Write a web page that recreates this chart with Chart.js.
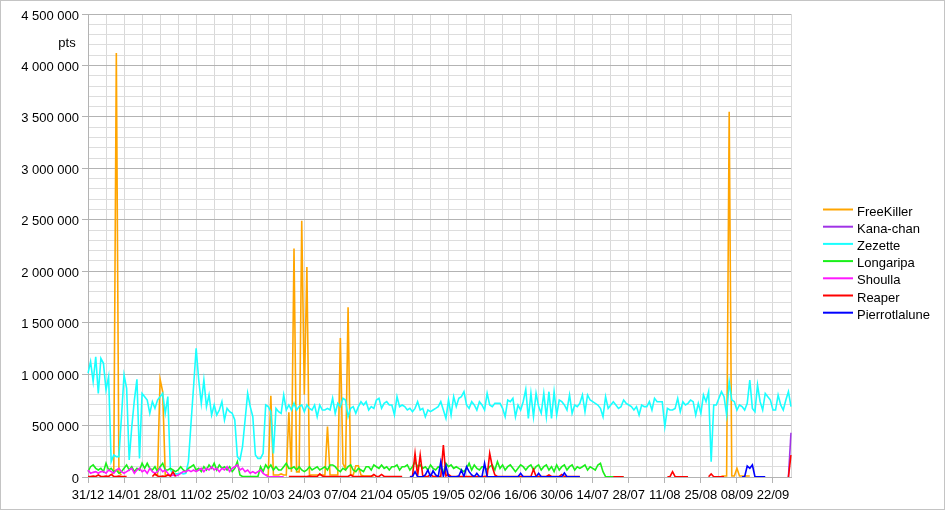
<!DOCTYPE html>
<html>
<head>
<meta charset="utf-8">
<script src="https://cdn.jsdelivr.net/npm/chart.js@4.4.1/dist/chart.umd.min.js"></script>
<style>
html,body{margin:0;padding:0;background:#fff;}
#wrap{width:945px;height:510px;position:relative;}
canvas{display:block;}
</style>
</head>
<body>
<div id="wrap"><canvas id="c" width="945" height="510"></canvas></div>
<script>
const _ = null;
const N = n => Array(n).fill(null);

// X tick labels (every 14 days)
const tickLabels = ['31/12','14/01','28/01','11/02','25/02','10/03','24/03','07/04','21/04','05/05',
  '19/05','02/06','16/06','30/06','14/07','28/07','11/08','25/08','08/09','22/09'];
const axisTitle = 'pts';
const seriesNames = ['FreeKiller','Kana-chan','Zezette','Longaripa','Shoulla','Reaper','Pierrotlalune'];
const seriesColors = ['#ffa500','#a033e6','#19ffff','#19f019','#ff19ff','#ff0000','#0000ff'];

// values in thousands of points, one per day from 31/12
const freeKiller = [
  ...N(9), 20, 40, 4120, 40, 20,
  ...N(12), 20, 20,
  950, 830, 20, 20, ...N(10),
  ...N(14),
  ...N(13), 20,
  20, 790, 20, 20, 20, 30, 20, 20, 630, 50, 2220, 50, 50, 2490,
  800, 2040, 20, 20, 20, 20, 20, 20, 20, 490, 20, 20, 20, 20,
  1350, 130, 80, 1650, 20, 20, 110, 110, 20, 10, 10, 10, 10, 10,
  ...N(126),
  ...N(8), 10, 10, 10, 3550, 10, 10,
  85, 10, 10, 10, 10, 10, ...N(8),
  ...N(8)
];
const kanaChan = [...N(272), 0, 430];
const zezette = [
  1008,1121,927,1169,813,1153,1105,846,975,149,214,198,198,586,
  991,862,165,489,748,949,181,813,781,748,619,732,667,748,
  781,813,619,781,68,36,30,30,40,30,36,150,520,880,
  1251,943,716,943,684,797,603,700,603,651,732,554,667,635,
  619,554,198,165,295,554,813,684,586,214,181,181,230,700,
  684,635,230,667,635,619,797,651,700,651,716,651,684,700,
  635,700,667,651,700,586,700,651,651,667,651,765,619,716,
  684,765,748,586,667,684,619,684,732,700,732,651,684,667,
  748,765,667,716,732,700,700,603,781,684,700,684,651,667,
  635,667,732,651,667,586,651,635,651,667,684,732,651,570,
  748,603,781,684,765,781,829,700,667,732,700,651,732,700,
  651,813,700,684,716,716,716,667,586,748,732,765,586,700,
  651,732,852,570,813,586,813,684,619,813,586,829,570,829,
  603,748,732,700,651,797,619,700,684,716,797,635,797,748,
  732,716,700,667,586,781,667,700,732,700,667,684,748,716,
  700,684,651,684,603,700,684,684,732,651,765,732,732,732,
  489,667,651,651,667,765,635,732,700,716,748,732,603,716,
  619,797,732,829,149,700,700,765,829,781,603,927,748,732,
  651,700,684,651,716,943,667,635,894,732,651,813,781,748,
  651,651,797,700,651,748,829,684
];
const longaripa = [
  52,100,117,84,68,84,52,133,68,84,52,68,36,52,
  84,117,68,100,52,84,68,133,84,133,84,68,100,52,
  100,133,68,68,84,68,52,68,100,68,52,84,100,117,
  68,84,52,100,68,117,84,133,68,117,84,100,68,100,
  52,84,149,19,5,5,5,5,5,5,5,100,52,117,
  84,117,68,100,68,68,100,133,84,84,100,68,100,68,
  52,68,100,68,84,100,68,84,100,68,117,117,100,68,
  52,84,68,100,117,68,52,84,68,52,100,100,68,117,
  100,84,117,84,100,68,100,100,117,68,100,100,117,68,
  100,149,100,117,84,100,68,117,84,68,100,84,36,133,
  100,117,84,100,84,68,52,84,133,68,117,84,68,100,
  100,68,100,117,68,149,84,117,68,100,117,84,52,84,
  117,100,68,100,117,68,100,117,68,100,117,68,100,52,
  117,68,100,117,68,100,117,68,100,84,100,117,68,100,
  84,68,117,133,52,3,3,3,3,3,3,3,3,_,
  ...N(64)
];
const shoulla = [
  68,36,45,52,36,52,52,36,68,52,36,68,84,52,
  36,52,68,84,36,68,84,52,68,36,84,52,36,52,
  84,52,68,36,10,20,10,19,36,52,52,68,52,68,
  52,68,84,52,84,68,100,68,84,52,84,68,100,52,
  84,100,117,68,84,52,68,36,52,36,52,68,36,19,
  3,3,3,3,3,3,3,...N(7),
  ...N(190)
];
const reaper = [
  5,5,10,5,20,5,5,10,5,25,5,5,10,5,
  5,5,...N(9),5,30,10,
  5,10,5,20,10,50,5,...N(7),
  ...N(14),
  ...N(14),
  ...N(8),5,5,5,5,5,5,
  5,5,10,5,5,5,30,10,5,5,5,5,5,5,
  5,5,5,5,20,5,5,5,5,5,5,5,5,25,
  5,5,25,5,5,5,5,5,5,5,5,_,_,5,
  5,230,10,214,10,5,5,25,5,5,5,5,311,10,
  25,5,5,5,5,5,5,5,5,5,5,5,5,5,
  5,10,230,100,20,5,5,5,5,5,5,5,5,5,
  5,5,5,5,5,75,5,5,5,5,5,20,5,5,
  5,5,25,5,5,5,5,5,5,5,_,_,_,_,
  ...N(8),3,3,3,3,3,_,
  ...N(14),
  _,3,3,52,3,3,3,3,3,3,_,_,_,_,
  _,_,_,3,30,3,3,3,3,3,_,_,_,_,
  ...N(14),
  ...N(6),0,214
];
const pierrotlalune = [
  ...N(112),
  ...N(13),3,
  3,52,3,3,3,20,68,3,60,20,3,149,3,110,
  3,3,3,3,10,68,3,100,52,20,3,36,3,3,
  133,3,3,3,3,3,3,3,3,3,3,3,3,3,
  36,3,3,3,3,3,3,36,3,3,3,3,3,3,
  3,3,3,40,3,3,3,3,3,3,_,_,_,_,
  ...N(56),
  _,_,3,3,107,84,117,3,3,3,3,3,_,_,
  ...N(8)
];

const seriesValues = [freeKiller, kanaChan, zezette, longaripa, shoulla, reaper, pierrotlalune];

// daily categories, starting 31/12 (leap year follows)
const categories = [];
for (let i = 0; i < zezette.length; i++) {
  const d = new Date(2011, 11, 31 + i);
  categories.push(String(d.getDate()).padStart(2,'0') + '/' + String(d.getMonth()+1).padStart(2,'0'));
}

const fmt = v => String(v).replace(/\B(?=(\d{3})+(?!\d))/g, ' ');
const isMajor = v => Math.round(v) % 500000 === 0;

Chart.defaults.font.family = '"Liberation Sans", Arial, sans-serif';
Chart.defaults.font.size = 13;
Chart.defaults.color = '#000';

const extras = {
  id: 'extras',
  afterDraw(chart) {
    const ctx = chart.ctx;
    ctx.save();
    ctx.font = '13px "Liberation Sans", Arial, sans-serif';
    ctx.fillStyle = '#000';
    ctx.textBaseline = 'middle';
    ctx.textAlign = 'center';
    ctx.fillText(axisTitle, 67, 43);
    ctx.textAlign = 'left';
    chart.data.datasets.forEach((ds, i) => {
      const y = 209.5 + i * 17.2;
      ctx.strokeStyle = ds.borderColor;
      ctx.lineWidth = 2;
      ctx.beginPath(); ctx.moveTo(823, y); ctx.lineTo(853, y); ctx.stroke();
      ctx.fillStyle = '#000';
      ctx.fillText(ds.label, 857, y + 2.5);
    });
    ctx.strokeStyle = '#c4c4c4';
    ctx.lineWidth = 1;
    ctx.strokeRect(0.5, 0.5, 944, 509);
    ctx.restore();
  }
};

new Chart(document.getElementById('c'), {
  type: 'line',
  data: {
    labels: categories,
    datasets: seriesNames.map((name, i) => ({
      label: name,
      data: seriesValues[i].map(v => v === null ? null : v * 1000),
      borderColor: seriesColors[i],
      backgroundColor: seriesColors[i],
      borderWidth: 1.6,
      pointRadius: 0,
      pointHoverRadius: 0,
      tension: 0,
      fill: false,
      spanGaps: false,
      order: 6 - i
    }))
  },
  options: {
    responsive: false,
    animation: false,
    devicePixelRatio: 1,
    events: [],
    layout: { padding: { left: 0, right: 154, top: 14, bottom: 0 } },
    plugins: { legend: { display: false }, tooltip: { enabled: false } },
    scales: {
      x: {
        type: 'category',
        offset: false,
        ticks: {
          autoSkip: false, maxRotation: 0, minRotation: 0, padding: 5,
          color: '#000', font: { size: 13 },
          callback: (v, i) => tickLabels.includes(categories[i]) ? categories[i] : ''
        },
        grid: {
          color: ctx => (ctx.index % 7 === 0) ? '#d9d9d9' : 'rgba(0,0,0,0)',
          tickColor: ctx => (ctx.index % 14 === 0) ? '#b3b3b3' : 'rgba(0,0,0,0)',
          tickLength: 6,
          lineWidth: 1
        },
        border: { color: '#b3b3b3' },
        afterFit: s => { s.height = 33; }
      },
      y: {
        min: 0, max: 4500000,
        ticks: {
          stepSize: 100000, maxTicksLimit: 1000, autoSkip: false, padding: 3,
          labelOffset: 2,
          color: '#000', font: { size: 13 },
          callback: v => isMajor(v) ? fmt(v) : ''
        },
        grid: {
          color: ctx => (ctx.tick && isMajor(ctx.tick.value)) ? '#b3b3b3' : '#dddddd',
          tickColor: ctx => (ctx.tick && isMajor(ctx.tick.value)) ? '#b3b3b3' : 'rgba(0,0,0,0)',
          tickLength: 6,
          lineWidth: 1
        },
        border: { color: '#b3b3b3' },
        afterFit: s => { s.width = 88; }
      }
    }
  },
  plugins: [extras]
});
</script>
</body>
</html>
